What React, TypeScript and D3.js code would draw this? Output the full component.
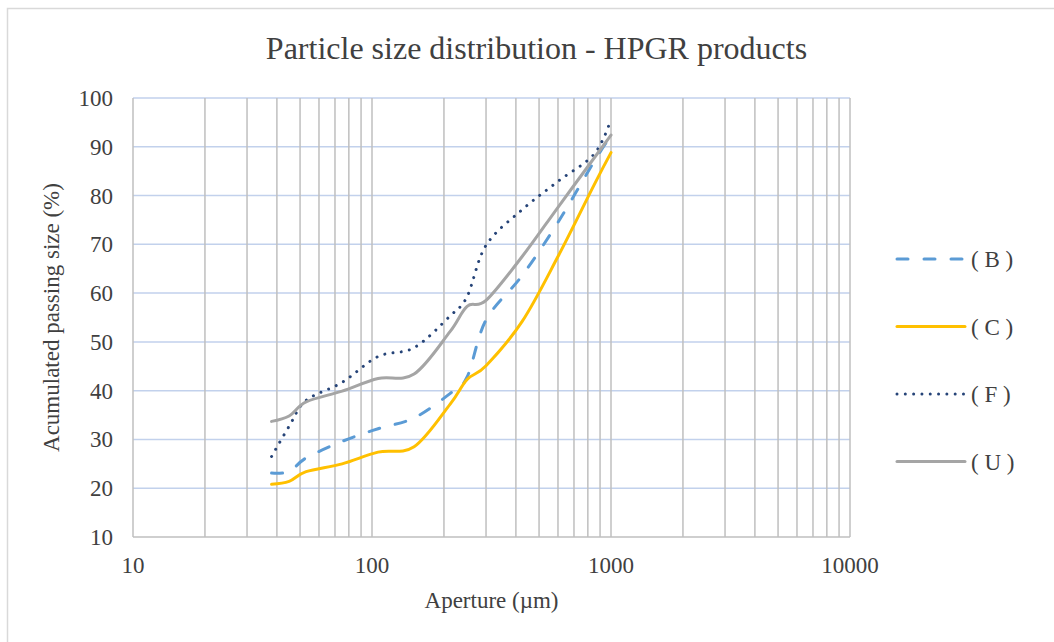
import React from "react";
import * as d3 from "d3";

const sizes = [38, 45, 53, 75, 106, 150, 212, 250, 300, 425, 600, 850, 1000];
const seriesB = [23.1, 23.4, 26.2, 29.6, 32.2, 34.4, 39.4, 42.8, 54.5, 63.6, 74.5, 87.0, 92.3];
const seriesC = [20.8, 21.4, 23.4, 25.0, 27.4, 28.5, 37.2, 42.3, 45.1, 54.2, 67.5, 82.2, 88.8];
const seriesF = [26.5, 32.7, 38.0, 41.7, 47.0, 48.8, 55.3, 59.3, 69.8, 77.1, 82.9, 88.5, 95.6];
const seriesU = [33.7, 34.8, 37.7, 39.9, 42.5, 43.4, 52.1, 57.3, 58.5, 67.5, 77.6, 87.7, 92.4];
const seriesNames = ["( B )", "( C )", "( F )", "( U )"];
const xMajorTicks = [10, 100, 1000, 10000];
const yTicks = [10, 20, 30, 40, 50, 60, 70, 80, 90, 100];
const title = "Particle size distribution - HPGR products";
const xTitle = "Aperture (µm)";
const yTitle = "Acumulated passing size (%)";

const W = 1054;
const H = 642;
const left = 133;
const right = 850;
const top = 98;
const bottom = 537;

export default function App() {
  const x = d3.scaleLog().domain([10, 10000]).range([left, right]);
  const y = d3.scaleLinear().domain([10, 100]).range([bottom, top]);

  const minor: number[] = [];
  for (const d of [10, 100, 1000]) for (let k = 1; k <= 9; k++) minor.push(d * k);
  minor.push(10000);

  const line = d3
    .line<[number, number]>()
    .x((d) => x(d[0]))
    .y((d) => y(d[1]))
    .curve(d3.curveCatmullRom.alpha(0));

  const styles = [
    { color: "#5B9BD5", dash: "11 16", cap: "round" },
    { color: "#FFC000", dash: undefined, cap: "round" },
    { color: "#264478", dash: "0.01 8.3", cap: "round" },
    { color: "#A5A5A5", dash: undefined, cap: "round" },
  ];
  const data = [seriesB, seriesC, seriesF, seriesU];
  const font = "'Liberation Serif', 'Times New Roman', serif";
  const textColor = "#404040";
  const legendY = [259, 326.5, 394, 461.5];

  return (
    <svg
      width={W}
      height={H}
      style={{ position: "absolute", left: 0, top: 0, background: "#fff" }}
      fontFamily={font}
    >
      <rect x={0} y={0} width={W} height={H} fill="#fff" />
      <rect x={7.5} y={8.5} width={1100} height={700} fill="none" stroke="#D9D9D9" strokeWidth={1.5} />
      <text x={536.5} y={59} textAnchor="middle" fontSize={32} fill={textColor}>
        {title}
      </text>
      {/* horizontal gridlines */}
      {yTicks.slice(1).map((t) => (
        <line key={"h" + t} x1={left} x2={right} y1={y(t)} y2={y(t)} stroke="#C2D1EC" strokeWidth={1.5} />
      ))}
      {/* vertical gridlines */}
      {minor.map((t) => (
        <line key={"v" + t} x1={x(t)} x2={x(t)} y1={top} y2={bottom} stroke="#BFBFBF" strokeWidth={1.5} />
      ))}
      <line x1={left} x2={right} y1={bottom} y2={bottom} stroke="#BFBFBF" strokeWidth={1.5} />
      {/* y tick labels */}
      {yTicks.map((t) => (
        <text key={"yt" + t} x={113} y={y(t)} dy="0.35em" textAnchor="end" fontSize={23} fill={textColor}>
          {t}
        </text>
      ))}
      {/* x tick labels */}
      {xMajorTicks.map((t) => (
        <text key={"xt" + t} x={x(t)} y={573} textAnchor="middle" fontSize={23} fill={textColor}>
          {t}
        </text>
      ))}
      <text x={(left + right) / 2} y={608} textAnchor="middle" fontSize={23} fill={textColor}>
        {xTitle}
      </text>
      <text
        transform={`translate(58.5, ${(top + bottom) / 2}) rotate(-90)`}
        textAnchor="middle"
        fontSize={23}
        fill={textColor}
      >
        {yTitle}
      </text>
      {/* series */}
      {data.map((vals, i) => {
        const pts = sizes.map((s, j) => [s, vals[j]] as [number, number]);
        return (
          <path
            key={"s" + i}
            d={line(pts) || ""}
            fill="none"
            stroke={styles[i].color}
            strokeWidth={3}
            strokeDasharray={styles[i].dash}
            strokeLinecap={styles[i].cap as any}
            strokeLinejoin="round"
          />
        );
      })}
      {/* legend */}
      {seriesNames.map((n, i) => (
        <g key={"lg" + i}>
          <line
            x1={897}
            x2={965}
            y1={legendY[i]}
            y2={legendY[i]}
            stroke={styles[i].color}
            strokeWidth={3}
            strokeDasharray={styles[i].dash}
            strokeLinecap={styles[i].cap as any}
          />
          <text x={971} y={legendY[i]} dy="0.35em" fontSize={23} fill={textColor}>
            {n}
          </text>
        </g>
      ))}
    </svg>
  );
}
